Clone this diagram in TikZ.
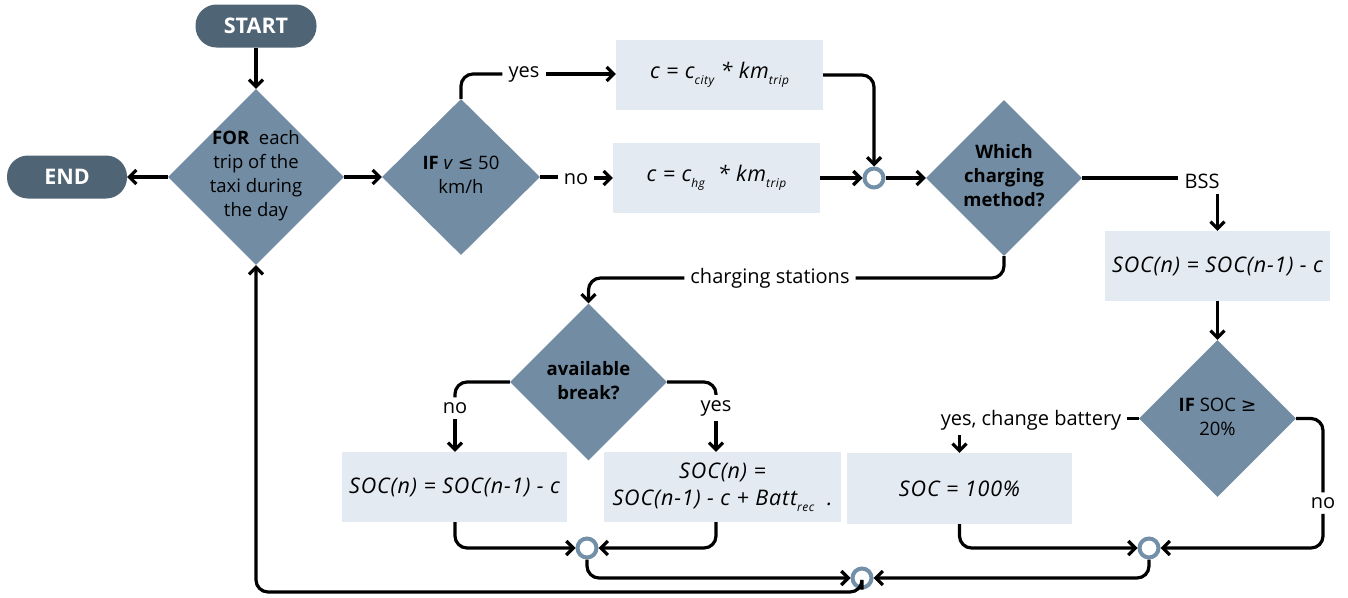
\documentclass[tikz,border=0pt]{standalone}
\usepackage{fontspec}
\setmainfont{Open Sans}
\newfontfamily\symfont{DejaVu Sans}
\newfontfamily\formfont[LetterSpace=4]{Open Sans}
\usetikzlibrary{shapes.geometric,arrows.meta}
\definecolor{darkc}{HTML}{4F6475}
\definecolor{diac}{HTML}{718CA3}
\definecolor{boxc}{HTML}{E3EAF1}
\definecolor{ringc}{HTML}{7390A8}
\newcommand\lowsub[1]{\raisebox{-0.5ex}{\fontsize{12}{12}\selectfont #1}}
\begin{document}
\begin{tikzpicture}[x=1pt,y=-1pt,
  term/.style={rectangle, rounded corners=21, fill=darkc, text=white, inner sep=0,
    minimum height=43, font=\bfseries\fontsize{21.5}{21.5}\selectfont},
  decision/.style={diamond, aspect=1, fill=diac, inner sep=0},
  dtext/.style={align=center, inner sep=0, font=\fontsize{18.5}{24}\selectfont},
  dbold/.style={align=center, inner sep=0, font=\bfseries\fontsize{18.5}{24}\selectfont},
  proc/.style={rectangle, fill=boxc, inner sep=0, align=center,
    font=\formfont\itshape\fontsize{21.5}{27}\selectfont},
  lbl/.style={inner xsep=6, inner ysep=5, font=\fontsize{20}{20}\selectfont},
  junc/.style={circle, draw=ringc, line width=4, fill=white, minimum size=19, inner sep=0},
  conn/.style={line width=3.2, rounded corners=12},
  arr/.style={conn, -{Straight Barb[length=7,width=14]}}]
\useasboundingbox (0,0) rectangle (1348,597);

% nodes
\node[term, minimum width=121] (start) at (256,26) {START};
\node[term, minimum width=120] (end) at (67,177) {END};
\node[decision, minimum width=176, minimum height=176] (for) at (256,177) {};
\node[dtext] (fortxt) at (256,176) {\textbf{FOR}\ \ each\\trip of the\\taxi during\\the day};
\node[decision, minimum width=158, minimum height=156] (if1) at (461,177) {};
\node[dtext] (if1txt) at (461,175) {\textbf{IF} \textit{v} {\symfont ≤} 50\\km/h};
\node[lbl] (yes1) at (524,74) {yes};
\node[lbl] (no1) at (576,179) {no};
\node[proc, minimum width=207, minimum height=70] (city) at (719.5,75) {c = c\lowsub{city} * km\lowsub{trip}};
\node[proc, minimum width=207, minimum height=70] (hg) at (716.5,178) {c = c\lowsub{hg}\ \ * km\lowsub{trip}};
\node[junc] (j1) at (874,178) {};
\node[decision, minimum width=156, minimum height=156] (which) at (1004,178) {};
\node[dbold] (whichtxt) at (1004,176) {Which\\charging\\method?};
\node[lbl] (bss) at (1202,181) {BSS};
\node[proc, minimum width=225, minimum height=70] (socB) at (1217.5,266) {SOC(n) = SOC(n-1) - c};
\node[decision, minimum width=157, minimum height=157] (ifsoc) at (1217.5,418.5) {};
\node[dtext] (ifsoctxt) at (1217.5,417) {\textbf{IF} SOC {\symfont ≥}\\20\%};
\node[lbl] (ycb) at (1031,420) {yes, change battery};
\node[proc, minimum width=225, minimum height=71] (soc100) at (959.5,488.5) {SOC = 100\%};
\node[lbl] (no2) at (1323,503) {no};
\node[junc] (j2) at (1149,548) {};
\node[lbl] (cs) at (770,278) {charging stations};
\node[decision, minimum width=157, minimum height=157] (avail) at (588.5,382) {};
\node[dbold] (availtxt) at (588.5,381) {available\\break?};
\node[lbl] (no3) at (455,408) {no};
\node[lbl] (yes3) at (716,408) {yes};
\node[proc, minimum width=225, minimum height=70] (socL) at (454.5,487) {SOC(n) = SOC(n-1) - c};
\node[proc, minimum width=237, minimum height=70] (socR) at (722.5,487) {SOC(n) =\\SOC(n-1) - c + Batt\lowsub{rec}\ \ .};
\node[junc] (jb) at (587,548) {};
\node[junc] (j3) at (862,578) {};
\coordinate (loop) at (256,592);

% connectors
\draw[arr] (start.south) -- (for.north);
\draw[arr] (for.west) -- (end.east);
\draw[arr] (for.east) -- (if1.west);
\draw[conn] (if1.north) |- (yes1.west);
\draw[arr] (yes1.east) -- (city.west |- yes1.east);
\draw[conn] (if1.east) -- (no1.west |- if1.east);
\draw[arr] (no1.east |- hg.west) -- (hg.west);
\draw[arr] (city.east) -| (j1.north);
\draw[arr] (hg.east) -- (j1.west);
\draw[arr] (j1.east) -- (which.west);
\draw[conn] (which.east) -- (which.east -| bss.west);
\draw[arr] (bss.south -| socB.north) -- (socB.north);
\draw[arr] (socB.south) -- (ifsoc.north);
\draw[conn] (ifsoc.west) -- (ifsoc.west -| ycb.east);
\draw[arr] (ycb.south -| soc100.north) -- (soc100.north);
\draw[conn] (ifsoc.east) -| (no2.north);
\draw[arr] (no2.south) |- (j2.east);
\draw[arr] (soc100.south) |- (j2.west);
\draw[arr] (j2.south) |- (j3.east);
\draw[conn] (which.south) |- (cs.east);
\draw[arr] (cs.west) -| (avail.north);
\draw[conn] (avail.west) -| (no3.north);
\draw[arr] (no3.south) -- (no3.south |- socL.north);
\draw[conn] (avail.east) -| (yes3.north);
\draw[arr] (yes3.south) -- (yes3.south |- socR.north);
\draw[arr] (socL.south -| no3) |- (jb.west);
\draw[arr] (socR.south -| yes3) |- (jb.east);
\draw[arr] (jb.south) |- (j3.west);
\draw[arr] (j3.south) |- (loop) -- (for.south);
\end{tikzpicture}
\end{document}
